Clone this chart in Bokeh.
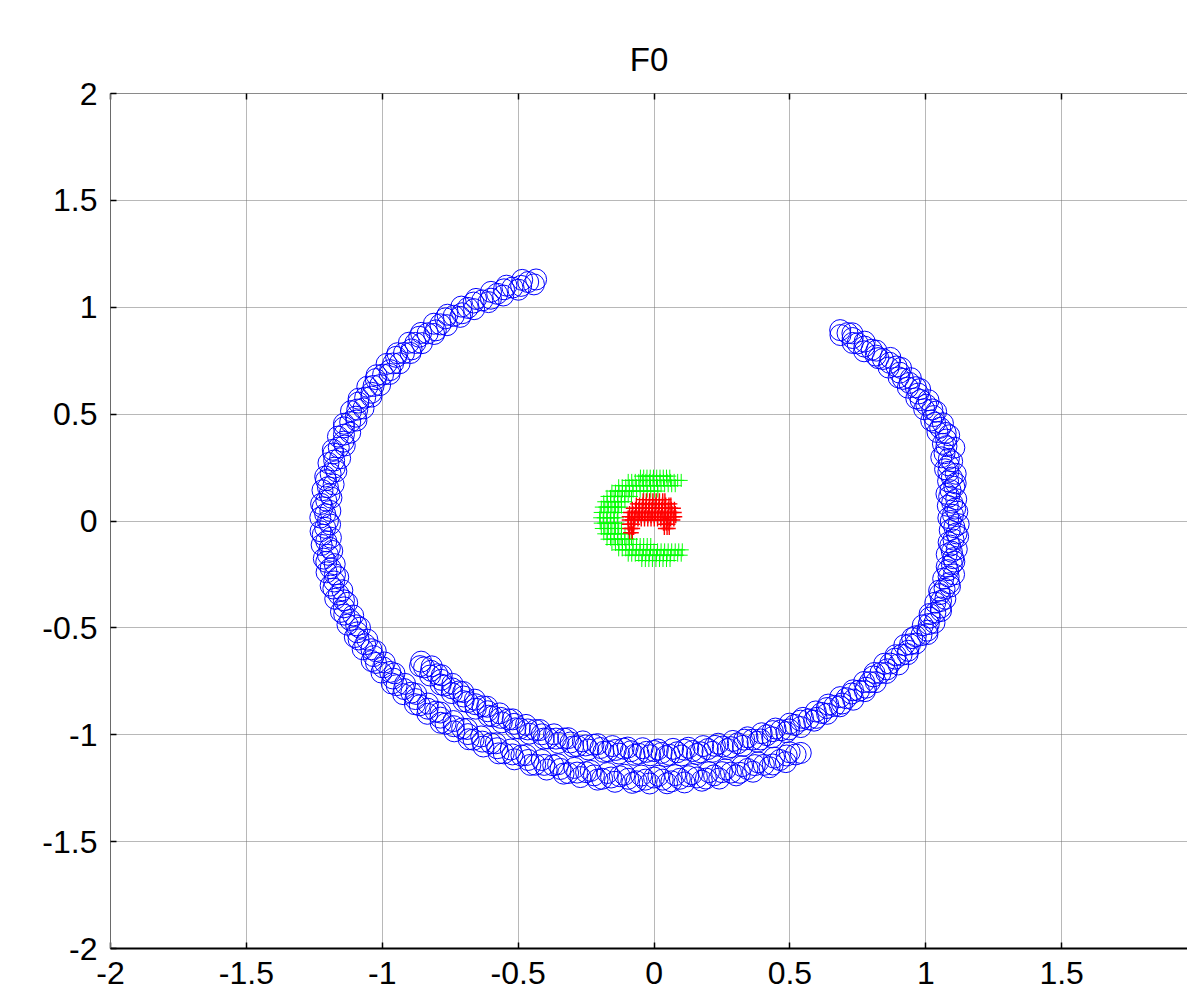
from bokeh.plotting import figure
from bokeh.models import Range1d, FixedTicker, LinearAxis, NumeralTickFormatter
from bokeh.embed import file_html
from bokeh.resources import INLINE

# ---------------- data ----------------
title_text = "F0"
x_ticks = [-2, -1.5, -1, -0.5, 0, 0.5, 1, 1.5, 2]
y_ticks = [-2, -1.5, -1, -0.5, 0, 0.5, 1, 1.5, 2]

# outer arc (top-left end -> left side -> lower bottom band), first pass of circles
arc_a = [
    (-0.434, 1.130), (-0.463, 1.118), (-0.489, 1.100), (-0.521, 1.092), (-0.552, 1.084),
    (-0.577, 1.063), (-0.600, 1.040), (-0.632, 1.032), (-0.664, 1.022), (-0.685, 0.997),
    (-0.706, 0.972), (-0.737, 0.960), (-0.768, 0.948), (-0.786, 0.920), (-0.803, 0.892),
    (-0.833, 0.878), (-0.864, 0.862), (-0.878, 0.833), (-0.892, 0.803), (-0.920, 0.786),
    (-0.949, 0.768), (-0.960, 0.737), (-0.971, 0.706), (-0.997, 0.685), (-1.024, 0.664),
    (-1.032, 0.632), (-1.040, 0.600), (-1.063, 0.577), (-1.088, 0.554), (-1.092, 0.521),
    (-1.097, 0.488), (-1.118, 0.463), (-1.141, 0.438), (-1.141, 0.404), (-1.143, 0.371),
    (-1.160, 0.344), (-1.180, 0.316), (-1.177, 0.283), (-1.175, 0.250), (-1.190, 0.221),
    (-1.207, 0.191), (-1.200, 0.158), (-1.194, 0.126), (-1.206, 0.095), (-1.219, 0.064),
    (-1.210, 0.032), (-1.200, 0.000), (-1.210, -0.032), (-1.219, -0.064), (-1.206, -0.095),
    (-1.193, -0.126), (-1.200, -0.158), (-1.206, -0.191), (-1.190, -0.221), (-1.174, -0.250),
    (-1.177, -0.283), (-1.180, -0.316), (-1.160, -0.344), (-1.141, -0.371), (-1.141, -0.404),
    (-1.140, -0.438), (-1.118, -0.463), (-1.096, -0.488), (-1.092, -0.521), (-1.087, -0.554),
    (-1.063, -0.577), (-1.040, -0.600), (-1.032, -0.632), (-1.023, -0.664), (-0.997, -0.685),
    (-0.971, -0.706), (-0.960, -0.737), (-0.947, -0.768), (-0.920, -0.786), (-0.893, -0.803),
    (-0.878, -0.833), (-0.862, -0.862), (-0.833, -0.878), (-0.803, -0.892), (-0.786, -0.920),
    (-0.767, -0.948), (-0.737, -0.960), (-0.706, -0.971), (-0.685, -0.997), (-0.664, -1.023),
    (-0.632, -1.032), (-0.600, -1.040), (-0.577, -1.063), (-0.553, -1.087), (-0.521, -1.092),
    (-0.488, -1.097), (-0.463, -1.118), (-0.437, -1.140), (-0.404, -1.141), (-0.371, -1.143),
    (-0.344, -1.160), (-0.316, -1.179), (-0.283, -1.177), (-0.250, -1.175), (-0.221, -1.190),
    (-0.191, -1.206), (-0.158, -1.200), (-0.126, -1.194), (-0.095, -1.206), (-0.064, -1.218),
    (-0.032, -1.210), (0.000, -1.200), (0.032, -1.210), (0.064, -1.218), (0.095, -1.206),
    (0.126, -1.194), (0.158, -1.200), (0.191, -1.205), (0.221, -1.190), (0.250, -1.175),
    (0.283, -1.177), (0.316, -1.178), (0.344, -1.160), (0.371, -1.142), (0.404, -1.141),
    (0.437, -1.139), (0.463, -1.118), (0.488, -1.097), (0.521, -1.092), (0.540, -1.085),
]

# outer arc, circles lying between the ones above (band thickness)
arc_a_mid = [
    (-0.442, 1.107), (-0.485, 1.128), (-0.499, 1.082), (-0.543, 1.101), (-0.555, 1.055),
    (-0.600, 1.072), (-0.609, 1.024), (-0.655, 1.039), (-0.662, 0.991), (-0.709, 1.003),
    (-0.713, 0.955), (-0.760, 0.965), (-0.762, 0.916), (-0.810, 0.923), (-0.809, 0.875),
    (-0.857, 0.880), (-0.854, 0.832), (-0.902, 0.834), (-0.896, 0.786), (-0.944, 0.785),
    (-0.936, 0.738), (-0.984, 0.735), (-0.973, 0.688), (-1.021, 0.682), (-1.008, 0.636),
    (-1.055, 0.628), (-1.040, 0.582), (-1.087, 0.572), (-1.069, 0.527), (-1.115, 0.514),
    (-1.095, 0.470), (-1.141, 0.455), (-1.118, 0.413), (-1.163, 0.395), (-1.138, 0.353),
    (-1.182, 0.333), (-1.155, 0.293), (-1.198, 0.271), (-1.169, 0.233), (-1.210, 0.208),
    (-1.179, 0.171), (-1.220, 0.144), (-1.187, 0.109), (-1.225, 0.080), (-1.191, 0.047),
    (-1.228, 0.016),
    (-1.192, -0.016), (-1.227, -0.048), (-1.189, -0.078), (-1.223, -0.112), (-1.184, -0.140),
    (-1.215, -0.176), (-1.175, -0.202), (-1.205, -0.240), (-1.162, -0.263), (-1.190, -0.302),
    (-1.147, -0.324), (-1.173, -0.364), (-1.129, -0.383), (-1.152, -0.425), (-1.107, -0.442),
    (-1.128, -0.485), (-1.082, -0.499), (-1.101, -0.543), (-1.055, -0.555), (-1.072, -0.600),
    (-1.024, -0.609), (-1.039, -0.655), (-0.991, -0.662), (-1.003, -0.709), (-0.955, -0.713),
    (-0.965, -0.760), (-0.916, -0.762), (-0.923, -0.810), (-0.875, -0.809), (-0.880, -0.857),
    (-0.832, -0.854), (-0.834, -0.902), (-0.786, -0.896), (-0.785, -0.944), (-0.738, -0.936),
    (-0.735, -0.984), (-0.688, -0.973), (-0.682, -1.021), (-0.636, -1.008), (-0.628, -1.055),
    (-0.582, -1.040), (-0.572, -1.087), (-0.527, -1.069), (-0.514, -1.115), (-0.470, -1.095),
    (-0.455, -1.141), (-0.413, -1.118), (-0.395, -1.163), (-0.353, -1.138), (-0.333, -1.182),
    (-0.293, -1.155), (-0.271, -1.198), (-0.233, -1.169), (-0.208, -1.210), (-0.171, -1.179),
    (-0.144, -1.220), (-0.109, -1.187), (-0.080, -1.225), (-0.047, -1.191), (-0.016, -1.228),
    (0.016, -1.192), (0.048, -1.227), (0.078, -1.189), (0.112, -1.223), (0.140, -1.184),
    (0.176, -1.215), (0.202, -1.175), (0.240, -1.205), (0.263, -1.162), (0.302, -1.190),
    (0.324, -1.147), (0.364, -1.173), (0.383, -1.129), (0.425, -1.152), (0.442, -1.107),
    (0.485, -1.128), (0.499, -1.082),
]

# inner arc (lower-left start -> upper bottom band -> right side -> top-right end)
arc_b = [
    (-0.857, -0.658), (-0.846, -0.685), (-0.821, -0.701), (-0.797, -0.717), (-0.783, -0.743),
    (-0.770, -0.770), (-0.743, -0.783), (-0.717, -0.797), (-0.701, -0.821), (-0.685, -0.847),
    (-0.658, -0.857), (-0.631, -0.867), (-0.612, -0.890), (-0.593, -0.914), (-0.564, -0.921),
    (-0.536, -0.928), (-0.515, -0.949), (-0.494, -0.971), (-0.465, -0.975), (-0.436, -0.978),
    (-0.413, -0.998), (-0.390, -1.017), (-0.361, -1.018), (-0.331, -1.018), (-0.307, -1.036),
    (-0.282, -1.053), (-0.252, -1.050), (-0.223, -1.047), (-0.197, -1.062), (-0.170, -1.077),
    (-0.141, -1.071), (-0.112, -1.065), (-0.085, -1.077), (-0.057, -1.089), (-0.028, -1.080),
    (0.000, -1.076), (0.028, -1.085), (0.057, -1.094), (0.085, -1.082), (0.112, -1.070),
    (0.142, -1.076), (0.171, -1.082), (0.198, -1.067), (0.224, -1.052), (0.253, -1.055),
    (0.283, -1.058), (0.308, -1.040), (0.332, -1.023), (0.362, -1.023), (0.392, -1.022),
    (0.415, -1.002), (0.437, -0.983), (0.467, -0.979), (0.497, -0.975), (0.518, -0.954),
    (0.539, -0.934), (0.569, -0.928), (0.598, -0.921), (0.617, -0.898), (0.636, -0.875),
    (0.664, -0.865), (0.692, -0.854), (0.708, -0.829), (0.727, -0.807), (0.754, -0.794),
    (0.780, -0.780), (0.794, -0.754), (0.807, -0.727), (0.833, -0.711), (0.858, -0.694),
    (0.869, -0.667), (0.887, -0.644), (0.911, -0.626), (0.935, -0.607), (0.942, -0.577),
    (0.950, -0.548), (0.984, -0.534), (1.006, -0.513), (1.011, -0.482), (1.015, -0.452),
    (1.035, -0.429), (1.055, -0.405), (1.056, -0.374), (1.052, -0.342), (1.069, -0.317),
    (1.086, -0.291), (1.084, -0.260), (1.082, -0.230), (1.096, -0.203), (1.101, -0.174),
    (1.096, -0.144), (1.090, -0.115), (1.102, -0.087), (1.113, -0.058), (1.105, -0.029),
    (1.092, 0.000), (1.100, 0.029), (1.108, 0.058), (1.097, 0.086), (1.086, 0.114),
    (1.091, 0.144), (1.110, 0.176), (1.096, 0.203), (1.083, 0.230), (1.084, 0.260),
    (1.085, 0.291), (1.069, 0.317), (1.076, 0.350), (1.075, 0.381), (1.073, 0.412),
    (1.053, 0.436), (1.034, 0.460), (1.029, 0.491), (1.024, 0.522), (1.002, 0.544),
    (0.981, 0.566), (0.972, 0.596), (0.963, 0.626), (0.940, 0.646), (0.916, 0.665),
    (0.904, 0.694), (0.892, 0.723), (0.867, 0.740), (0.842, 0.758), (0.816, 0.774),
    (0.801, 0.801), (0.774, 0.816), (0.749, 0.831), (0.731, 0.856), (0.712, 0.879),
    (0.685, 0.893),
]

# inner arc, circles lying between the ones above (band thickness)
arc_b_mid = [
    (-0.861, -0.679), (-0.818, -0.680), (-0.824, -0.723), (-0.781, -0.722), (-0.785, -0.765),
    (-0.742, -0.762), (-0.744, -0.805), (-0.702, -0.800), (-0.701, -0.843), (-0.659, -0.836),
    (-0.656, -0.878), (-0.614, -0.869), (-0.609, -0.911), (-0.568, -0.900), (-0.560, -0.942),
    (-0.520, -0.928), (-0.510, -0.970), (-0.471, -0.954), (-0.459, -0.995), (-0.420, -0.978),
    (-0.406, -1.018), (-0.368, -0.998), (-0.352, -1.038), (-0.316, -1.016), (-0.298, -1.055),
    (-0.262, -1.031), (-0.242, -1.069), (-0.208, -1.044), (-0.186, -1.080), (-0.153, -1.053),
    (-0.129, -1.088), (-0.097, -1.060), (-0.072, -1.094), (-0.042, -1.063), (-0.014, -1.096),
    (0.014, -1.069), (0.043, -1.100), (0.070, -1.066), (0.101, -1.097), (0.126, -1.061),
    (0.158, -1.090), (0.181, -1.053), (0.215, -1.080), (0.236, -1.042), (0.271, -1.067),
    (0.290, -1.029), (0.327, -1.052), (0.344, -1.012), (0.381, -1.033), (0.396, -0.993),
    (0.435, -1.012), (0.447, -0.971), (0.487, -0.988), (0.499, -0.948), (0.540, -0.964),
    (0.548, -0.921), (0.589, -0.934), (0.595, -0.891), (0.637, -0.902), (0.641, -0.859),
    (0.684, -0.867), (0.685, -0.824), (0.733, -0.836), (0.732, -0.792), (0.776, -0.796),
    (0.773, -0.753), (0.816, -0.754), (0.811, -0.711), (0.855, -0.711), (0.847, -0.668),
    (0.899, -0.671), (0.889, -0.628), (0.933, -0.623), (0.921, -0.581), (0.964, -0.573),
    (0.963, -0.539), (1.006, -0.529), (0.989, -0.488), (1.032, -0.476), (1.014, -0.435),
    (1.056, -0.421), (1.035, -0.382), (1.072, -0.364), (1.049, -0.326), (1.089, -0.307),
    (1.064, -0.270), (1.104, -0.250), (1.077, -0.214), (1.105, -0.190), (1.077, -0.156),
    (1.114, -0.132), (1.084, -0.100), (1.119, -0.073), (1.088, -0.043), (1.121, -0.015),
    (1.083, 0.014), (1.116, 0.044), (1.081, 0.071), (1.112, 0.102), (1.076, 0.127),
    (1.105, 0.160), (1.082, 0.186), (1.110, 0.221), (1.071, 0.242), (1.097, 0.279),
    (1.057, 0.298), (1.105, 0.343), (1.063, 0.361), (1.086, 0.401), (1.043, 0.416),
    (1.063, 0.457), (1.020, 0.470), (1.038, 0.512), (0.994, 0.523), (1.010, 0.565),
    (0.965, 0.574), (0.979, 0.617), (0.934, 0.624), (0.945, 0.668), (0.900, 0.672),
    (0.909, 0.716), (0.863, 0.718), (0.870, 0.763), (0.825, 0.762), (0.818, 0.797),
    (0.773, 0.794), (0.775, 0.839), (0.731, 0.833), (0.730, 0.878), (0.686, 0.870),
]

# green "+" markers: C-shaped cluster around the origin, listed by rows (y, [x ...])
green_rows = [
    (0.210, [-0.050, -0.038, -0.026, -0.014, -0.002, 0.010, 0.022, 0.034, 0.046, 0.058]),
    (0.190, [-0.095, -0.082, -0.069, -0.056, -0.043, -0.030, -0.017, -0.004, 0.009, 0.022,
             0.035, 0.048, 0.061, 0.074, 0.087, 0.100]),
    (0.165, [-0.130, -0.117, -0.104, -0.091, -0.078, -0.065, -0.052, -0.039, -0.026, -0.013,
             0.000, 0.013, 0.026, 0.039, 0.052, 0.065, 0.078]),
    (0.140, [-0.155, -0.142, -0.129, -0.116, -0.103, -0.090, -0.077, -0.064, -0.051, -0.038,
             -0.025, -0.012, 0.001, 0.014]),
    (0.115, [-0.173, -0.160, -0.147, -0.134, -0.121, -0.108, -0.095, -0.083]),
    (0.090, [-0.185, -0.172, -0.159, -0.146, -0.133, -0.120, -0.107]),
    (0.065, [-0.194, -0.181, -0.168, -0.155, -0.142, -0.130, -0.120]),
    (0.040, [-0.198, -0.185, -0.172, -0.159, -0.146, -0.133]),
    (0.015, [-0.200, -0.187, -0.174, -0.161, -0.148, -0.135]),
    (-0.010, [-0.198, -0.185, -0.172, -0.159, -0.146, -0.133]),
    (-0.035, [-0.194, -0.181, -0.168, -0.155, -0.142, -0.130, -0.120]),
    (-0.060, [-0.185, -0.172, -0.159, -0.146, -0.133, -0.120, -0.107]),
    (-0.085, [-0.173, -0.160, -0.147, -0.134, -0.121, -0.108, -0.095, -0.083]),
    (-0.110, [-0.155, -0.142, -0.129, -0.116, -0.103, -0.090, -0.077, -0.064, -0.051, -0.038,
              -0.025, -0.012]),
    (-0.135, [-0.130, -0.117, -0.104, -0.091, -0.078, -0.065, -0.052, -0.039, -0.026, -0.013,
              0.000, 0.013, 0.026, 0.039, 0.052, 0.065, 0.078, 0.091, 0.104]),
    (-0.160, [-0.095, -0.082, -0.069, -0.056, -0.043, -0.030, -0.017, -0.004, 0.009, 0.022,
              0.035, 0.048, 0.061, 0.074, 0.087, 0.100]),
    (-0.185, [-0.045, -0.032, -0.019, -0.006, 0.007, 0.020, 0.033, 0.046, 0.059]),
]

# red "+" markers: small arch-shaped cluster at the origin, listed by rows
red_rows = [
    (0.100, [-0.040, -0.028, -0.016, -0.004, 0.008, 0.020, 0.032, 0.040]),
    (0.080, [-0.065, -0.053, -0.041, -0.029, -0.017, -0.005, 0.007, 0.019, 0.031, 0.043,
             0.055, 0.062]),
    (0.060, [-0.080, -0.068, -0.056, -0.044, -0.032, -0.020, -0.008, 0.004, 0.016, 0.028,
             0.040, 0.052, 0.064, 0.075]),
    (0.040, [-0.090, -0.078, -0.066, -0.054, -0.042, -0.030, -0.018, -0.006, 0.006, 0.018,
             0.030, 0.042, 0.054, 0.066, 0.078]),
    (0.020, [-0.095, -0.083, -0.071, -0.059, -0.047, -0.035, -0.023, -0.011, 0.001, 0.013,
             0.025, 0.037, 0.049, 0.061, 0.073, 0.080]),
    (0.005, [-0.095, -0.083, -0.071, -0.059, -0.047, -0.035, -0.023, -0.011, 0.001, 0.013,
             0.025, 0.037, 0.049, 0.061, 0.073]),
    (-0.015, [-0.095, -0.085, -0.075, 0.035, 0.045, 0.055]),
    (-0.035, [-0.093, -0.083, -0.075, 0.038, 0.048, 0.056]),
    (-0.055, [-0.090, -0.080]),
]

# ---------------- figure ----------------
FONT = "Liberation Sans"

p = figure(
    width=1187, height=998,
    x_range=Range1d(-2, 1.963), y_range=Range1d(-2, 2),
    output_backend="svg", toolbar_location=None,
    min_border_left=110, min_border_right=0, min_border_top=93, min_border_bottom=50,
    margin=(0, 0, -7, 0),
    background_fill_color="white", border_fill_color="white",
    outline_line_color=None,
)

p.title.text = title_text
p.title.align = "center"
p.title.text_font = FONT
p.title.text_font_size = "33px"
p.title.text_font_style = "normal"
p.title.text_color = "black"
p.title.standoff = 32

fmt = NumeralTickFormatter(format="0.[0]")

xa = p.xaxis[0]
xa.ticker = FixedTicker(ticks=x_ticks)
xa.formatter = fmt
xa.axis_line_color = "black"
xa.axis_line_width = 2
ya = p.yaxis[0]
ya.ticker = FixedTicker(ticks=y_ticks)
ya.formatter = fmt
ya.axis_line_color = "#6a6a6a"
ya.axis_line_width = 1

for ax in (xa, ya):
    ax.major_tick_in = 6
    ax.major_tick_out = 0
    ax.major_tick_line_color = "black"
    ax.major_tick_line_width = 1.5
    ax.minor_tick_line_color = None
    ax.major_label_text_font = FONT
    ax.major_label_text_font_size = "32px"
    ax.major_label_text_color = "black"
    ax.major_label_standoff = 13

# top box edge with inward ticks, no labels
top_axis = LinearAxis(
    ticker=FixedTicker(ticks=x_ticks),
    formatter=fmt,
    axis_line_color="#8a8a8a", axis_line_width=1,
    major_tick_in=6, major_tick_out=0,
    major_tick_line_color="black", major_tick_line_width=1.5,
    minor_tick_line_color=None,
    major_label_text_color=None, major_label_text_font_size="1px",
    major_label_standoff=0,
)
p.add_layout(top_axis, "above")

for g in (p.xgrid[0], p.ygrid[0]):
    g.grid_line_color = "#707070"
    g.grid_line_dash = "1 1"
    g.grid_line_width = 1

blue_pts = arc_a + arc_a_mid + arc_b + arc_b_mid
p.scatter([pt[0] for pt in blue_pts], [pt[1] for pt in blue_pts], marker="circle",
          size=21, fill_color=None, line_color="#0000ff", line_width=1)

gx = [x for y, xs in green_rows for x in xs]
gy = [y for y, xs in green_rows for x in xs]
p.scatter(gx, gy, marker="cross", size=13, line_color="#00ff00", line_width=1)

rx = [x for y, xs in red_rows for x in xs]
ry = [y for y, xs in red_rows for x in xs]
p.scatter(rx, ry, marker="cross", size=13, line_color="#ff0000", line_width=1.4)

open("out.html", "w").write(file_html(p, INLINE))
